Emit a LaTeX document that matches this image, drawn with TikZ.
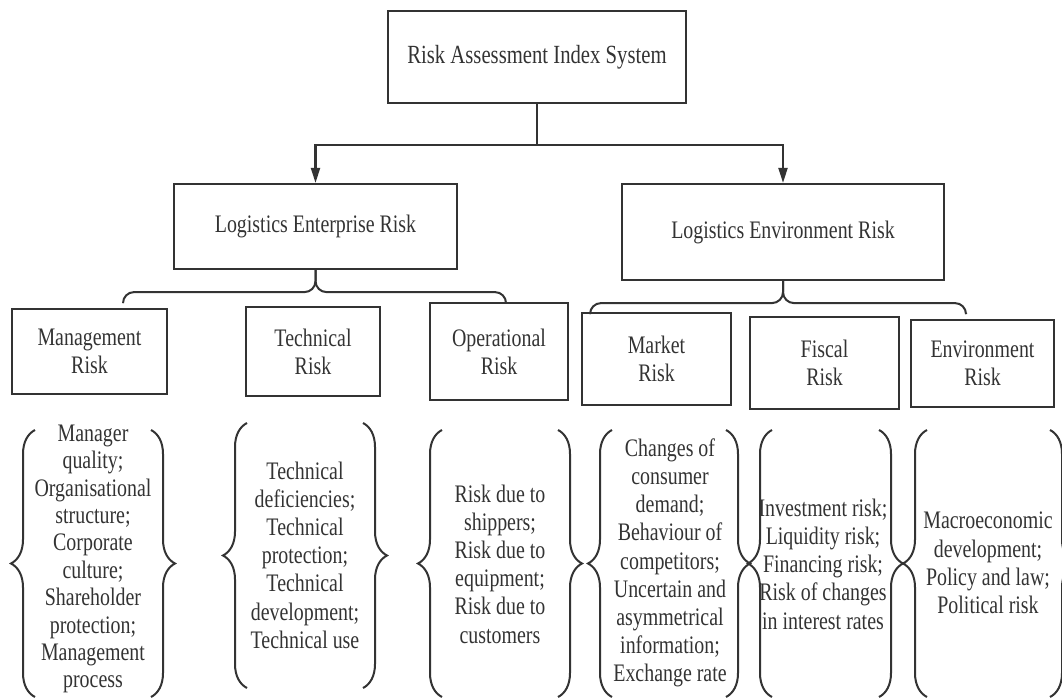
\documentclass[tikz,border=0pt]{standalone}
\usepackage{fontspec}
\setmainfont{Liberation Serif}[FakeStretch=0.79]
\usetikzlibrary{arrows.meta,decorations.pathreplacing}

\definecolor{ink}{HTML}{333333}

\begin{document}
\begin{tikzpicture}[x=1pt,y=-1pt]
\tikzstyle{box} = [rectangle, draw=ink, line width=2.2pt, text=ink,
inner sep=2pt, align=center, font=\fontsize{25.2}{28}\selectfont]
\tikzstyle{items} = [text=ink, inner sep=0pt, align=center,
font=\fontsize{25.2}{28.2}\selectfont]
\tikzstyle{link} = [draw=ink, line width=2.2pt, -{Triangle[length=15pt,width=9pt]}]
\tikzstyle{fork} = [draw=ink, line width=2pt, rounded corners=11pt]
\tikzstyle{curly} = [draw=ink, line width=2pt, decorate,
decoration={brace,amplitude=24pt}]

\useasboundingbox (0,0) rectangle (1062,700);

% top level
\node [box, minimum width=298pt, minimum height=92pt,
font=\fontsize{26.2}{28}\selectfont] (top) at (537,57) {Risk Assessment Index System};
% second level
\node [box, minimum width=283pt, minimum height=85pt] (ler) at (315.5,226.5) {Logistics Enterprise Risk};
\node [box, minimum width=322pt, minimum height=96pt] (lenv) at (783,232) {Logistics Environment Risk};
% third level
\node [box, minimum width=155pt, minimum height=85pt] (mgmt) at (89.5,351.5) {Management\\Risk};
\node [box, minimum width=134pt, minimum height=89pt] (tech) at (313,351.5) {Technical\\Risk};
\node [box, minimum width=138pt, minimum height=97pt] (oper) at (499,351.5) {Operational\\Risk};
\node [box, minimum width=149pt, minimum height=92pt] (mkt) at (656.5,359) {Market\\Risk};
\node [box, minimum width=149pt, minimum height=92pt] (fisc) at (824.5,363) {Fiscal\\Risk};
\node [box, minimum width=143pt, minimum height=87pt] (envr) at (982.5,363.5) {Environment\\Risk};

% index items
\node [items, font=\fontsize{25.2}{27.4}\selectfont] (mgmtitems) at (93,559) {Manager\\quality;\\Organisational\\structure;\\Corporate\\culture;\\Shareholder\\protection;\\Management\\process};
\node [items] (techitems) at (305,555) {Technical\\deficiencies;\\Technical\\protection;\\Technical\\development;\\Technical use};
\node [items] (operitems) at (500,564) {Risk due to\\shippers;\\Risk due to\\equipment;\\Risk due to\\customers};
\node [items] (mktitems) at (670,563) {Changes of\\consumer\\demand;\\Behaviour of\\competitors;\\Uncertain and\\asymmetrical\\information;\\Exchange rate};
\node [items] (fiscitems) at (823,564) {Investment risk;\\Liquidity risk;\\Financing risk;\\Risk of changes\\in interest rates};
\node [items] (envritems) at (988,563) {Macroeconomic\\development;\\Policy and law;\\Political risk};

% arrows
\draw [link] (top.south) -- ++(0,41) -| (ler.north);
\draw [link] (top.south) -- ++(0,41) -| (lenv.north);

% forks
\coordinate (lerA) at (123,303);
\coordinate (lerB) at (506,303);
\coordinate (lenvA) at (590,313);
\coordinate (lenvB) at (966,313);
\draw [fork] (ler.south) -- ++(0,22) -| (lerA);
\draw [fork] (ler.south) -- ++(0,22) -| (lerB);
\draw [fork] (lenv.south) -- ++(0,22) -| (lenvA);
\draw [fork] (lenv.south) -- ++(0,22) -| (lenvB);

% braces round the items
\draw [curly] (35,697) -- (35,430);
\draw [curly] (151,430) -- (151,697);
\draw [curly] (247,688) -- (247,423);
\draw [curly] (363,423) -- (363,688);
\draw [curly] (442,697) -- (442,430);
\draw [curly] (558,430) -- (558,697);
\draw [curly] (612,697) -- (612,430);
\draw [curly] (726,430) -- (726,697);
\draw [curly] (772,697) -- (772,430);
\draw [curly] (879,430) -- (879,697);
\draw [curly] (927,697) -- (927,430);
\draw [curly] (1050,430) -- (1050,697);
\end{tikzpicture}
\end{document}
